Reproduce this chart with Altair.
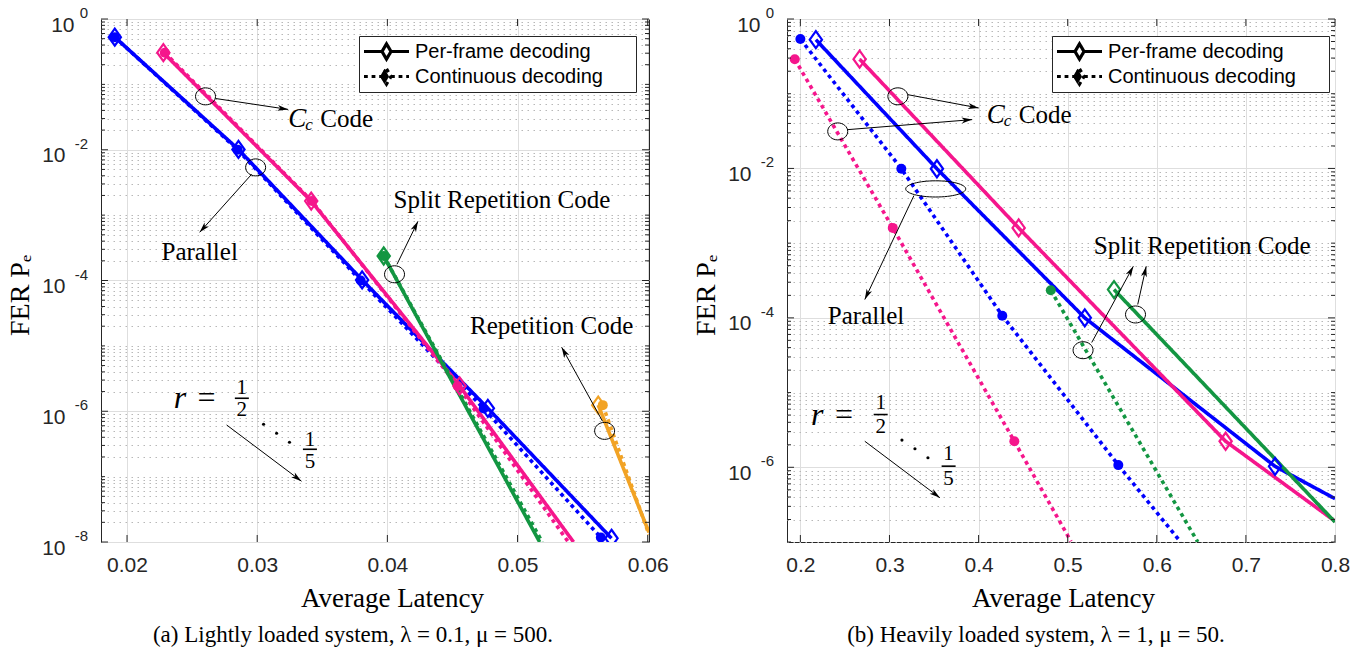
import math
import altair as alt
import pandas as pd

# ---------------- values ----------------
CODES = ["Parallel", "Cc Code", "Split Repetition Code", "Repetition Code"]
COLORS = ["#0000ff", "#f5168c", "#139642", "#f2a325"]
DECODINGS = ["Per-frame decoding", "Continuous decoding"]

# (a) lightly loaded system
A_PAR_PF_LAT = [0.01906, 0.02856, 0.03806, 0.04772, 0.05722]
A_PAR_PF_FER = [0.528, 1.01e-2, 1.02e-4, 1.11e-6, 1.14e-8]
A_PAR_PF_MK = [1, 1, 1, 1, 1]
A_PAR_CD_LAT = [0.01906, 0.02850, 0.03795, 0.04740, 0.05640]
A_PAR_CD_FER = [0.528, 1.0e-2, 1.0e-4, 1.1e-6, 1.17e-8]
A_PAR_CD_MK = [1, 1, 1, 1, 1]
A_CC_PF_LAT = [0.02279, 0.03415, 0.04555, 0.05430]
A_CC_PF_FER = [0.305, 1.64e-3, 2.44e-6, 1.0e-8]
A_CC_PF_MK = [1, 1, 1, 0]
A_CC_CD_LAT = [0.02290, 0.03420, 0.04540, 0.05390]
A_CC_CD_FER = [0.305, 1.64e-3, 2.44e-6, 1.0e-8]
A_CC_CD_MK = [1, 1, 1, 0]
A_SPLIT_PF_LAT = [0.03972, 0.0517]
A_SPLIT_PF_FER = [2.37e-4, 1.0e-8]
A_SPLIT_PF_MK = [1, 0]
A_SPLIT_CD_LAT = [0.03972, 0.0519]
A_SPLIT_CD_FER = [2.37e-4, 1.0e-8]
A_SPLIT_CD_MK = [1, 0]
A_REP_PF_LAT = [0.0562, 0.0601]
A_REP_PF_FER = [1.24e-6, 1.4e-8]
A_REP_PF_MK = [1, 0]
A_REP_CD_LAT = [0.05655, 0.0601]
A_REP_CD_FER = [1.24e-6, 1.3e-8]
A_REP_CD_MK = [1, 0]

# (b) heavily loaded system
B_PAR_PF_LAT = [0.21738, 0.35325, 0.5192, 0.7327, 0.8]
B_PAR_PF_FER = [0.529, 9.9e-3, 1.0e-4, 1.03e-6, 3.8e-7]
B_PAR_PF_MK = [1, 1, 1, 1, 0]
B_PAR_CD_LAT = [0.2, 0.3133, 0.4266, 0.5568, 0.6268]
B_PAR_CD_FER = [0.54, 9.9e-3, 1.07e-4, 1.07e-6, 1.0e-7]
B_PAR_CD_MK = [1, 1, 1, 1, 0]
B_CC_PF_LAT = [0.26648, 0.44496, 0.67724, 0.8]
B_CC_PF_FER = [0.29, 1.6e-3, 2.23e-6, 1.9e-7]
B_CC_PF_MK = [1, 1, 1, 0]
B_CC_CD_LAT = [0.19372, 0.3037, 0.44013, 0.5037]
B_CC_CD_FER = [0.29, 1.6e-3, 2.23e-6, 1.02e-7]
B_CC_CD_MK = [1, 1, 1, 0]
B_SPLIT_PF_LAT = [0.552, 0.8]
B_SPLIT_PF_FER = [2.39e-4, 1.85e-7]
B_SPLIT_PF_MK = [1, 0]
B_SPLIT_CD_LAT = [0.48105, 0.64597]
B_SPLIT_CD_FER = [2.34e-4, 1.0e-7]
B_SPLIT_CD_MK = [1, 0]

# axes
A_XDOM = [0.018, 0.0601]
A_YDOM = [1e-8, 1]
B_XDOM = [0.185, 0.8]
B_YDOM = [1e-7, 1]
A_XTICKS = [0.02, 0.03, 0.04, 0.05, 0.06]
B_XTICKS = [0.2, 0.3, 0.4, 0.5, 0.6, 0.7, 0.8]
A_YMAJOR = [1, 1e-2, 1e-4, 1e-6, 1e-8]
A_YEXP = ["0", "-2", "-4", "-6", "-8"]
B_YMAJOR = [1, 1e-2, 1e-4, 1e-6]
B_YEXP = ["0", "-2", "-4", "-6"]

CAPTION_A = "(a) Lightly loaded system, \u03bb = 0.1, \u03bc = 500."
CAPTION_B = "(b) Heavily loaded system, \u03bb = 1, \u03bc = 50."

# annotations (in data units)
A_ARROWS = [  # lat, fer, lat2, fer2 (tip)
    (0.02680, 6.08e-2, 0.03238, 4.14e-2),
    (0.02957, 4.21e-3, 0.02558, 5.46e-4),
    (0.04074, 1.77e-4, 0.04235, 8.04e-4),
    (0.05653, 7.03e-7, 0.05339, 9.53e-6),
    (0.02765, 6.17e-7, 0.03340, 8.51e-8),
]
A_CIRCLES = [(0.02603, 6.56e-2), (0.02988, 5.37e-3), (0.04055, 1.245e-4), (0.05669, 5.01e-7)]
A_ELLIPSES = []
A_LABELS = [("Parallel", 0.02558, 2.70e-4), ("Split Repetition Code", 0.04880, 1.68e-3),
            ("Repetition Code", 0.05262, 2.0e-5)]
A_CC = (0.03239, 2.92e-2)
A_R = dict(r=(0.02358, 1.58e-6), eq=(0.02542, 1.58e-6),
           num1=(0.02882, 2.29e-6, "1"), bar1=(0.02882, 1.58e-6), den1=(0.02882, 1.035e-6, "2"),
           dots=[(0.03049, 6.32e-7), (0.03149, 4.61e-7), (0.03248, 3.36e-7)],
           num2=(0.03405, 3.66e-7, "1"), bar2=(0.03405, 2.62e-7), den2=(0.03405, 1.66e-7, "5"))

B_ARROWS = [
    (0.32052, 9.71e-2, 0.40011, 6.44e-2),
    (0.25235, 3.30e-2, 0.39283, 4.50e-2),
    (0.32747, 4.33e-3, 0.27231, 1.76e-4),
    (0.5270, 4.68e-5, 0.57366, 4.90e-4),
    (0.5786, 1.51e-4, 0.58812, 4.90e-4),
    (0.27231, 2.23e-6, 0.35661, 3.91e-7),
]
B_CIRCLES = [(0.30942, 9.23e-2), (0.24193, 3.13e-2), (0.51726, 3.69e-5), (0.57612, 1.11e-4)]
B_ELLIPSES = [(0.35190, 5.32e-3)]
B_LABELS = [("Parallel", 0.27366, 1.05e-4), ("Split Repetition Code", 0.65090, 9.08e-4)]
B_CC = (0.40930, 5.25e-2)
B_R = dict(r=(0.21200, 5.08e-6), eq=(0.2389, 5.08e-6),
           num1=(0.29013, 7.24e-6, "1"), bar1=(0.29013, 5.08e-6), den1=(0.29013, 3.46e-6, "2"),
           dots=[(0.31401, 2.31e-6), (0.32859, 1.77e-6), (0.34316, 1.34e-6)],
           num2=(0.36637, 1.51e-6, "1"), bar2=(0.36637, 1.035e-6), den2=(0.36637, 6.98e-7, "5"))

# ---------------- styling ----------------
W, H = 548, 523
SANS = "Liberation Sans"
SERIF = "Liberation Serif"
AXC = "#262626"
DIAMOND = "M0,-1L0.72,0L0,1L-0.72,0Z"
ARROWHEAD = "M0,0L0.42,1.5L0,1.1L-0.42,1.5Z"
CIRCLE = "M-1,0A1,0.85,0,1,1,1,0A1,0.85,0,1,1,-1,0Z"
ELLIPSE = "M-1,0A1,0.27,0,1,1,1,0A1,0.27,0,1,1,-1,0Z"
LEG_SYM = "M-1,0H-0.2M0.2,0H1M0,-0.34L0.2,0L0,0.34L-0.2,0Z"
LEG_DIAMOND = "M0,-0.34L0.2,0L0,0.34L-0.2,0Z"
MAJOR_TEST = "abs(log(datum.value)/LN10 - 2*round(log(datum.value)/LN10/2)) < 1e-6"


def series(code, dec, lats, fers, mks):
    return [dict(code=code, decoding=dec, idx=i, lat=l, fer=f, mk=m)
            for i, (l, f, m) in enumerate(zip(lats, fers, mks))]


rows_a = (series(CODES[0], DECODINGS[0], A_PAR_PF_LAT, A_PAR_PF_FER, A_PAR_PF_MK)
          + series(CODES[0], DECODINGS[1], A_PAR_CD_LAT, A_PAR_CD_FER, A_PAR_CD_MK)
          + series(CODES[1], DECODINGS[0], A_CC_PF_LAT, A_CC_PF_FER, A_CC_PF_MK)
          + series(CODES[1], DECODINGS[1], A_CC_CD_LAT, A_CC_CD_FER, A_CC_CD_MK)
          + series(CODES[2], DECODINGS[0], A_SPLIT_PF_LAT, A_SPLIT_PF_FER, A_SPLIT_PF_MK)
          + series(CODES[2], DECODINGS[1], A_SPLIT_CD_LAT, A_SPLIT_CD_FER, A_SPLIT_CD_MK)
          + series(CODES[3], DECODINGS[0], A_REP_PF_LAT, A_REP_PF_FER, A_REP_PF_MK)
          + series(CODES[3], DECODINGS[1], A_REP_CD_LAT, A_REP_CD_FER, A_REP_CD_MK))
rows_b = (series(CODES[0], DECODINGS[0], B_PAR_PF_LAT, B_PAR_PF_FER, B_PAR_PF_MK)
          + series(CODES[0], DECODINGS[1], B_PAR_CD_LAT, B_PAR_CD_FER, B_PAR_CD_MK)
          + series(CODES[1], DECODINGS[0], B_CC_PF_LAT, B_CC_PF_FER, B_CC_PF_MK)
          + series(CODES[1], DECODINGS[1], B_CC_CD_LAT, B_CC_CD_FER, B_CC_CD_MK)
          + series(CODES[2], DECODINGS[0], B_SPLIT_PF_LAT, B_SPLIT_PF_FER, B_SPLIT_PF_MK)
          + series(CODES[2], DECODINGS[1], B_SPLIT_CD_LAT, B_SPLIT_CD_FER, B_SPLIT_CD_MK))


def minor_values(ydom):
    lo = int(round(math.log10(ydom[0])))
    vals = []
    for e in range(lo, 0):
        for k in range(1, 10):
            if k == 1 and e % 2 == 0:
                continue
            vals.append(float(f"{k}e{e}"))
    return vals


def make_panel(rows, xdom, ydom, xticks, xfmt, ymajor, yexp, arrows, circles, ellipses,
               labels, cc, rann, caption, title_x, cap_dx, leg_x):
    df = pd.DataFrame(rows)
    xs = alt.Scale(domain=xdom, nice=False, zero=False)
    ys = alt.Scale(type="log", domain=ydom, nice=False)
    yminor = minor_values(ydom)
    yall = sorted(ymajor + yminor)

    xaxis = alt.Axis(values=xticks, format=xfmt, grid=True, gridColor="#dedede", gridWidth=1,
                     ticks=False, domain=False, labelFlush=False, labelFont=SANS, labelFontSize=21,
                     labelColor=AXC, labelPadding=12, title="Average Latency", titleFont=SERIF,
                     titleFontSize=27, titleFontWeight="normal", titleColor="black",
                     titleX=title_x, titleY=56, titleBaseline="middle")
    yaxis = alt.Axis(values=yall, grid=True, ticks=False, domain=False, labelOverlap=False,
                     labelFlush=False,
                     labelExpr=f"{MAJOR_TEST} ? '10' : ''", labelFont=SANS, labelFontSize=21,
                     labelColor=AXC, labelBaseline="middle", labelOffset=6,
                     labelPadding={"condition": {"test": "datum.value == 1", "value": 27}, "value": 36},
                     gridColor={"condition": {"test": MAJOR_TEST, "value": "#dedede"}, "value": "#b8b8b8"},
                     gridDash={"condition": {"test": MAJOR_TEST, "value": []}, "value": [1.5, 4.5]},
                     title="FER P\u2091", titleFont=SERIF, titleFontSize=28, titleFontWeight="normal",
                     titleColor="black", titleX=-81, titleY=276, titleAngle=270,
                     titleBaseline="middle", titleAlign="center")

    def X(f="lat"):
        return alt.X(f"{f}:Q", scale=xs, axis=xaxis)

    def Y(f="fer"):
        return alt.Y(f"{f}:Q", scale=ys, axis=yaxis)

    cscale = alt.Scale(domain=CODES, range=COLORS)
    col = alt.Color("code:N", scale=cscale, legend=None)
    leg = alt.Legend(title=None, orient="none", legendX=leg_x, legendY=17, fillColor="white",
                     strokeColor=AXC, padding=3, labelFont=SANS, labelFontSize=20,
                     labelColor="black", symbolType=LEG_SYM, symbolSize=2025,
                     symbolStrokeWidth=3.2, symbolStrokeColor="black", symbolFillColor="white",
                     symbolOpacity=1, clipHeight=25, labelOffset=4, rowPadding=0, labelLimit=400,
                     labelExpr="datum.label + '\u2800\u2800'")
    leg_fill = alt.Legend(title=None, orient="none", legendX=leg_x, legendY=17,
                          fillColor="transparent", strokeColor="transparent", padding=3,
                          labelFontSize=20, labelExpr="''", symbolType=LEG_DIAMOND,
                          symbolSize=2025, symbolStrokeWidth=0, symbolStrokeColor="transparent",
                          symbolOpacity=1, clipHeight=25, labelOffset=4, rowPadding=0)

    base = alt.Chart(df)
    lines = base.mark_line(strokeWidth=3.6, clip=True, strokeCap="butt").encode(
        x=X(), y=Y(), color=col,
        strokeDash=alt.StrokeDash("decoding:N",
                                  scale=alt.Scale(domain=DECODINGS, range=[[1, 0], [3.8, 3.8]]),
                                  legend=leg),
        detail="code:N", order="idx:Q")
    cd_marks = base.transform_filter(
        (alt.datum.decoding == DECODINGS[1]) & (alt.datum.mk == 1)).mark_point(
        shape="circle", filled=True, size=100, opacity=1, clip=True).encode(x=X(), y=Y(), color=col)
    pf_marks = base.transform_filter(
        (alt.datum.decoding == DECODINGS[0]) & (alt.datum.mk == 1)).mark_point(
        shape=DIAMOND, filled=False, size=290, strokeWidth=2.2, opacity=1, clip=True).encode(
        x=X(), y=Y(), color=col)
    marker_key = alt.Chart(pd.DataFrame({"marker": ["open", "filled"]})).mark_point(
        opacity=0, filled=True).encode(
        fill=alt.Fill("marker:N", scale=alt.Scale(domain=["open", "filled"],
                                                  range=["transparent", "black"]), legend=leg_fill))

    # frame ticks
    tick_major = pd.DataFrame({"fer": ymajor})
    tick_minor = pd.DataFrame({"fer": yminor})
    tick_x = pd.DataFrame({"lat": xticks})
    tk = dict(color=AXC, thickness=1, opacity=1)
    ticks = [
        alt.Chart(tick_major).mark_tick(orient="horizontal", size=7, **tk).encode(x=alt.value(3.5), y=Y()),
        alt.Chart(tick_major).mark_tick(orient="horizontal", size=7, **tk).encode(x=alt.value(W - 3.5), y=Y()),
        alt.Chart(tick_minor).mark_tick(orient="horizontal", size=4, **tk).encode(x=alt.value(2), y=Y()),
        alt.Chart(tick_minor).mark_tick(orient="horizontal", size=4, **tk).encode(x=alt.value(W - 2), y=Y()),
        alt.Chart(tick_x).mark_tick(orient="vertical", size=7, **tk).encode(x=X(), y=alt.value(3.5)),
        alt.Chart(tick_x).mark_tick(orient="vertical", size=7, **tk).encode(x=X(), y=alt.value(H - 3.5)),
    ]
    yexp_df = pd.DataFrame({"fer": ymajor, "exp": yexp})
    yexp_layer = alt.Chart(yexp_df).mark_text(align="right", baseline="middle", dy=-6, font=SANS,
                                              fontSize=15, color=AXC).encode(
        x=alt.value(-13), y=Y(), text="exp:N")

    # annotations
    def px(x, y):
        return ((x - xdom[0]) / (xdom[1] - xdom[0]) * W,
                (math.log10(ydom[1]) - math.log10(y)) / (math.log10(ydom[1]) - math.log10(ydom[0])) * H)

    arr_rows = []
    for (x1, y1, x2, y2) in arrows:
        p1, p2 = px(x1, y1), px(x2, y2)
        ang = math.degrees(math.atan2(p2[0] - p1[0], -(p2[1] - p1[1]))) % 360
        arr_rows.append(dict(lat=x1, fer=y1, lat2=x2, fer2=y2, ang=ang))
    arr_df = pd.DataFrame(arr_rows)
    arrow_lines = alt.Chart(arr_df).mark_rule(color="black", strokeWidth=1).encode(
        x=X(), y=Y(), x2="lat2:Q", y2="fer2:Q")
    arrow_heads = alt.Chart(arr_df).mark_point(shape=ARROWHEAD, filled=True, color="black",
                                               size=200, opacity=1).encode(
        x=X("lat2"), y=Y("fer2"), angle=alt.Angle("ang:Q", scale=None))
    circ_df = pd.DataFrame(circles, columns=["lat", "fer"])
    circ_layer = alt.Chart(circ_df).mark_point(shape=CIRCLE, filled=False, color="black",
                                               size=400, strokeWidth=1, opacity=1).encode(x=X(), y=Y())
    layers_extra = [arrow_lines, arrow_heads, circ_layer]
    if ellipses:
        ell_df = pd.DataFrame(ellipses, columns=["lat", "fer"])
        layers_extra.append(alt.Chart(ell_df).mark_point(shape=ELLIPSE, filled=False, color="black",
                                                         size=3600, strokeWidth=1, opacity=1).encode(
            x=X(), y=Y()))
    lab_df = pd.DataFrame(labels, columns=["txt", "lat", "fer"])
    layers_extra.append(alt.Chart(lab_df).mark_text(font=SERIF, fontSize=25, color="black",
                                                    align="center", baseline="middle").encode(
        x=X(), y=Y(), text="txt:N"))
    cc_df = pd.DataFrame([{"lat": cc[0], "fer": cc[1]}])
    layers_extra += [
        alt.Chart(cc_df).mark_text(text="C", font=SERIF, fontSize=27, fontStyle="italic",
                                   color="black", align="left", baseline="middle").encode(x=X(), y=Y()),
        alt.Chart(cc_df).mark_text(text="c", font=SERIF, fontSize=17, fontStyle="italic", dx=17, dy=6,
                                   color="black", align="left", baseline="middle").encode(x=X(), y=Y()),
        alt.Chart(cc_df).mark_text(text="Code", font=SERIF, fontSize=25, dx=32,
                                   color="black", align="left", baseline="middle").encode(x=X(), y=Y()),
    ]
    # r = 1/2 ... 1/5
    r_df = pd.DataFrame([{"lat": rann["r"][0], "fer": rann["r"][1]}])
    eq_df = pd.DataFrame([{"lat": rann["eq"][0], "fer": rann["eq"][1]}])
    fr_df = pd.DataFrame([{"lat": rann[k][0], "fer": rann[k][1], "t": rann[k][2]}
                          for k in ("num1", "den1", "num2", "den2")])
    bar_df = pd.DataFrame([{"lat": rann[k][0], "fer": rann[k][1]} for k in ("bar1", "bar2")])
    dot_df = pd.DataFrame(rann["dots"], columns=["lat", "fer"])
    layers_extra += [
        alt.Chart(r_df).mark_text(text="r", font=SERIF, fontSize=32, fontStyle="italic",
                                  color="black", align="left", baseline="middle").encode(x=X(), y=Y()),
        alt.Chart(eq_df).mark_text(text="=", font=SERIF, fontSize=32, color="black",
                                   align="left", baseline="middle").encode(x=X(), y=Y()),
        alt.Chart(fr_df).mark_text(font=SERIF, fontSize=21, color="black", align="center",
                                   baseline="middle").encode(x=X(), y=Y(), text="t:N"),
        alt.Chart(bar_df).mark_tick(orient="horizontal", size=14, thickness=1.6, color="black",
                                    opacity=1).encode(x=X(), y=Y()),
        alt.Chart(dot_df).mark_point(shape="circle", filled=True, size=10, color="black",
                                     opacity=1).encode(x=X(), y=Y()),
    ]

    layers = [lines, cd_marks, pf_marks] + ticks + [yexp_layer] + layers_extra + [marker_key]
    return alt.layer(*layers).properties(
        width=W, height=H,
        title=alt.TitleParams(caption, orient="bottom", anchor="middle", frame="group",
                              font=SERIF, fontSize=23, fontWeight="normal", color="black",
                              offset=13, dx=cap_dx))


pa = make_panel(rows_a, A_XDOM, A_YDOM, A_XTICKS, ".2f", A_YMAJOR, A_YEXP, A_ARROWS, A_CIRCLES,
                A_ELLIPSES, A_LABELS, A_CC, A_R, CAPTION_A, 291, -22, 258)
pb = make_panel(rows_b, B_XDOM, B_YDOM, B_XTICKS, ".1f", B_YMAJOR, B_YEXP, B_ARROWS, B_CIRCLES,
                B_ELLIPSES, B_LABELS, B_CC, B_R, CAPTION_B, 276, -25, 265)

chart = alt.hconcat(pa, pb, spacing=138, bounds="flush").resolve_scale(
    strokeDash="independent", color="independent", fill="independent",
    x="independent", y="independent"
).properties(
    padding={"left": 5, "top": 5, "right": 5, "bottom": 0},
    background="white",
).configure_view(stroke=AXC, strokeWidth=1)

chart.save("out.html", embed_options={"renderer": "svg", "actions": False})
